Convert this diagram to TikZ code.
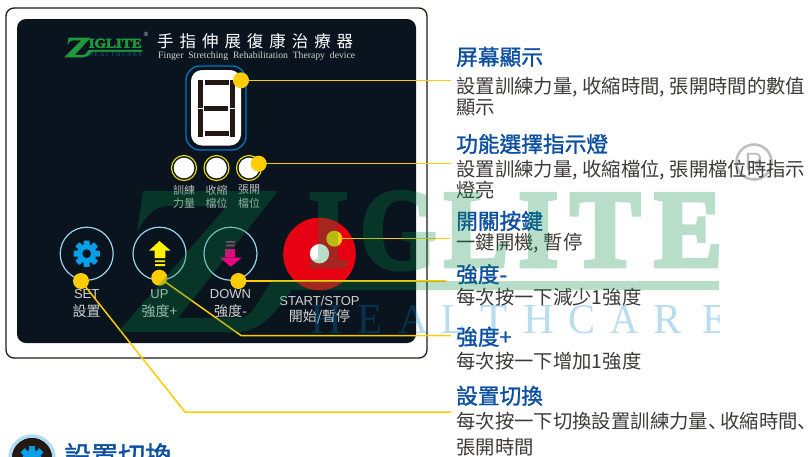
\documentclass[tikz,border=0pt]{standalone}
\usepackage{fontspec}
\setmainfont{Liberation Sans}
\newfontfamily\cjk{Noto Sans CJK TC}
\newfontfamily\cjkhead[FakeBold=1.2]{Noto Sans CJK TC}
\newfontfamily\cjksc{Noto Sans CJK SC}
\newfontfamily\cjktitle[LetterSpace=36]{Noto Sans CJK TC}
\newfontfamily\lsans{Liberation Sans}
\newfontfamily\lserif{Liberation Serif}
\newfontfamily\wmserif[FakeBold=4]{Liberation Serif Bold}
\definecolor{panelc}{HTML}{0A141E}
\definecolor{framec}{HTML}{231815}
\definecolor{headc}{HTML}{0B4EA2}
\definecolor{bodyc}{HTML}{3E3A39}
\definecolor{dotc}{HTML}{FFCC00}
\definecolor{ringc}{HTML}{9DD3EC}
\definecolor{gearc}{HTML}{00A0E9}
\definecolor{wmgreen}{RGB}{0,140,68}
\definecolor{wmblue}{RGB}{5,130,200}
\definecolor{labc}{HTML}{D2D2D2}
\definecolor{logoc}{HTML}{1E9A3C}
\definecolor{startc}{HTML}{E60012}
\definecolor{ledc}{HTML}{F5E000}
\definecolor{dispc}{HTML}{0075C2}
\tikzset{
 x=1pt,y=-1pt,
 headtxt/.style={anchor=base west,inner sep=0,text=headc,font=\cjkhead\fontsize{21.7}{21.7}\selectfont},
 bodytxt/.style={anchor=base west,inner sep=0,text=bodyc,font=\cjk\fontsize{19.35}{19.35}\selectfont},
 labtxt/.style={inner sep=0,text=labc,font=\lsans\fontsize{13}{13}\selectfont},
 labcjk/.style={inner sep=0,text=labc,font=\cjk\fontsize{14}{14}\selectfont},
 ledtxt/.style={inner sep=0,text=labc!90!black,font=\cjk\fontsize{11}{11}\selectfont},
 hotspot/.style={circle,fill=dotc,inner sep=0,minimum size=16pt},
 leader/.style={draw=dotc,line width=1.5pt},
 btnring/.style={circle,draw=ringc,line width=1.2pt,inner sep=0,minimum size=53pt},
 ledfill/.style={circle,fill=white,inner sep=0,minimum size=20.6pt},
 ledring/.style={circle,draw=ledc,line width=1.1pt,inner sep=0,minimum size=25pt},
 seg/.style={fill=framec,draw=none},
 wmg/.style={inner sep=0,anchor=north west,text=wmgreen},
 wmb/.style={inner sep=0,anchor=north west,text=wmblue},
}
\newcommand{\gearat}[3]{% x y scale
 \begin{scope}[shift={(#1,#2)},scale=#3]
  \fill[gearc] (0,0) circle[radius=9.6];
  \foreach \a in {0,45,...,315}{\fill[gearc,rotate=\a,rounded corners=.6pt] (-3,-13.2) rectangle (3,-7);}
  \fill[panelc] (0,0) circle[radius=4.4];
 \end{scope}}
\newcommand{\zshape}[1]{(143,191) -- (278,191) -- (178,318) -- (240,318)
   .. controls (252,318) and (258,300) .. (272,281) -- (#1,281) -- (#1,290) -- (292,290)
   .. controls (272,318) and (258,332) .. (236,332) -- (118,332) -- (227,206) -- (168,206)
   .. controls (152,206) and (144,220) .. (137,232) -- cycle}
\newcommand{\cm}{,\hspace{4.5pt}}
\newcommand{\dun}{{\cjksc 、}\hspace{-7pt}}
\begin{document}
\begin{tikzpicture}
\useasboundingbox (0,0) rectangle (809,456);
\clip (0,0) rectangle (809,456);
\fill[white] (0,0) rectangle (809,456);
% casing and panel
\draw[framec,line width=1.3pt,rounded corners=8pt] (6,8) rectangle (427,358);
\fill[panelc,rounded corners=9pt] (17,19) rectangle (416,343);
% logo
\begin{scope}[shift={(65,38)},xscale=.155,yscale=.135,shift={(-118,-191)}]
 \fill[logoc,draw=logoc,line width=.6pt] \zshape{615};
\end{scope}
\node[inner sep=0,anchor=north west,text=logoc] (logoname) at (88.5,38.5) {\resizebox{53pt}{9pt}{\wmserif IGLITE}};
\node[inner sep=0,anchor=north west,text=gearc!60!black] (logosub) at (89,52.5) {\resizebox{53pt}{4pt}{\lserif H E A L T H C A R E}};
\node[inner sep=0,text=labc,font=\lsans\fontsize{6}{6}\selectfont] (logoreg) at (146,34) {®};
\node[inner sep=0,anchor=base west,text=white,font=\cjktitle\fontsize{16.5}{16.5}\selectfont] (title) at (157,47.3) {手指伸展復康治療器};
\node[inner sep=0,anchor=base west,text=labc] (subtitle) at (158,58) {\resizebox{197pt}{!}{\lserif Finger\ \ Stretching\ \ Rehabilitation\ \ Therapy\ \ device}};
% display
\draw[draw=dispc,line width=1.3pt,rounded corners=14pt] (186,66) rectangle (246,150);
\fill[white,rounded corners=11pt] (191,70) rectangle (241,145.5);
\fill[seg] (198,80) rectangle (203.3,107.7);
\fill[seg] (198,109) rectangle (203.3,136.7);
\fill[seg] (230,80) rectangle (235,107.7);
\fill[seg] (230,109) rectangle (235,136.7);
\fill[seg] (204.7,80) rectangle (229.3,85);
\fill[seg] (203.5,105.7) rectangle (228,111);
\fill[seg] (204.7,130.7) rectangle (229.3,136);
% LEDs
\node[ledfill] (led1) at (184,168) {};
\node[ledfill] (led2) at (216.5,168) {};
\node[ledfill] (led3) at (249,168) {};
\node[ledring] (led1r) at (184,168) {};
\node[ledring] (led2r) at (216.5,168) {};
\node[ledring] (led3r) at (249,168) {};
\node[ledtxt] (l1a) at (184,190) {訓練};
\node[ledtxt] (l1b) at (184,203) {力量};
\node[ledtxt] (l2a) at (216.5,190) {收縮};
\node[ledtxt] (l2b) at (216.5,203) {檔位};
\node[ledtxt] (l3a) at (249,190) {張開};
\node[ledtxt] (l3b) at (249,203) {檔位};
% buttons
\node[btnring] (bset) at (86.7,253.7) {};
\node[btnring] (bup) at (159.5,253.7) {};
\node[btnring] (bdown) at (230.5,253.7) {};
\gearat{86.7}{253.7}{1}
\fill[yellow] (159.5,241) -- (170.7,250.7) -- (165.3,250.7) -- (165.3,258) -- (154.7,258) -- (154.7,250.7) -- (149,250.7) -- cycle;
\fill[yellow] (155,260.3) rectangle (165,262) (155,264) rectangle (165,266);
\fill[magenta!90!red] (225,249) rectangle (235,258) (220,257.7) -- (241.7,257.7) -- (230.7,266.7) -- cycle;
\fill[magenta!75!black] (226,241) rectangle (235,242.6) (226,244.6) rectangle (235,246.4);
\node[circle,fill=startc,inner sep=0,minimum size=72.6pt] (bstart) at (319.5,254) {};
\node[circle,fill=white,inner sep=0,minimum size=19.4pt] (bstarth) at (319.5,253.7) {};
\node[labtxt] (ts) at (86.7,294) {SET};
\node[labcjk] (tsc) at (86.7,311) {設置};
\node[labtxt] (tu) at (159.5,294) {UP};
\node[labcjk] (tuc) at (159.5,311) {強度+};
\node[labtxt] (td) at (230.5,294) {DOWN};
\node[labcjk] (tdc) at (230.5,311) {強度-};
\node[labtxt] (tst) at (319.5,301) {START/STOP};
\node[labcjk] (tstc) at (319.5,317) {開始/暫停};
% hotspots
\node[hotspot] (d1) at (241,80.3) {};
\node[hotspot] (d2) at (258.7,163.7) {};
\node[hotspot] (d3) at (334.3,238.7) {};
\node[hotspot] (d4) at (238.3,281) {};
\node[hotspot] (d5) at (159.3,277.7) {};
\node[hotspot] (d6) at (81,281) {};
\coordinate (e1) at (451,80.3);
\coordinate (e2) at (451,163.7);
\coordinate (e3) at (450,238.7);
\coordinate (e4) at (446,281);
\coordinate (k5) at (241,335.5);
\coordinate (e5) at (451,335.5);
\coordinate (k6) at (185,412);
\coordinate (e6) at (451,412);
\draw[leader] (d1.center) -- (e1);
\draw[leader] (d2.center) -- (e2);
\draw[leader] (d3.center) -- (e3);
\draw[leader] (d4.center) -- (e4);
\draw[leader] (d5.center) -- (k5) -- (e5);
\draw[leader] (d6.center) -- (k6) -- (e6);
% registered mark
\node[circle,draw=black!25,line width=2.6pt,inner sep=0,minimum size=35pt,text=black!25,font=\lsans\fontsize{25}{25}\selectfont] (regmark) at (754,162) {R};
% right texts
\node[headtxt] (h1) at (456,65) {屏幕顯示};
\node[bodytxt] (b1a) at (456.3,93) {設置訓練力量\cm 收縮時間\cm 張開時間的數值};
\node[bodytxt] (b1b) at (456.3,114) {顯示};
\node[headtxt] (h2) at (456,152.2) {功能選擇指示燈};
\node[bodytxt] (b2a) at (456.3,176.3) {設置訓練力量\cm 收縮檔位\cm 張開檔位時指示};
\node[bodytxt] (b2b) at (456.3,197) {燈亮};
\node[headtxt] (h3) at (456,229.2) {開關按鍵};
\node[bodytxt] (b3a) at (456.3,249) {一鍵開機\cm 暫停};
\node[headtxt] (h4) at (456,282.5) {強度-};
\node[bodytxt] (b4a) at (456.3,304) {每次按一下減少1強度};
\node[headtxt] (h5) at (456,345) {強度+};
\node[bodytxt] (b5a) at (456.3,368.7) {每次按一下增加1強度};
\node[headtxt] (h6) at (456,404) {設置切換};
\node[bodytxt] (b6a) at (456.3,428) {每次按一下切換設置訓練力量\dun 收縮時間\dun};
\node[bodytxt] (b6b) at (456.3,454) {張開時間};
% bottom cropped item
\fill[framec] (32,458) circle[radius=20.5];
\draw[ringc!80!white,line width=3.5pt] (32,458) circle[radius=22];
\fill[gearc] (32,459.5) circle[radius=9.6];
\foreach \a in {0,45,...,315}{\fill[gearc,shift={(32,459.5)},rotate=\a] (-3,-13.2) rectangle (3,-7);}
\node[anchor=base west,inner sep=0,text=headc,font=\cjkhead\fontsize{27}{27}\selectfont] (bottomh) at (64,466) {設置切換};
% watermark
\begin{scope}
 \clip (100,180) rectangle (719,345);
 \begin{scope}[transparency group,opacity=.28]
 \fill[wmgreen] \zshape{719};
 \node[wmg] (wi1) at (308,194) {\resizebox{40pt}{72pt}{\wmserif I}};
 \node[wmg] (wg) at (360,192) {\resizebox{76pt}{76pt}{\wmserif G}};
 \node[wmg] (wl) at (444,194) {\resizebox{64pt}{72pt}{\wmserif L}};
 \node[wmg] (wi2) at (518,194) {\resizebox{40pt}{72pt}{\wmserif I}};
 \node[wmg] (wt) at (570,194) {\resizebox{70pt}{72pt}{\wmserif T}};
 \node[wmg] (we) at (654,194) {\resizebox{68pt}{72pt}{\wmserif E}};
 \end{scope}
 \begin{scope}[transparency group,opacity=.28]
 \node[wmb] (hh1) at (310,305) {\resizebox{32pt}{28pt}{\lserif H}};
 \node[wmb] (he1) at (357,305) {\resizebox{25pt}{28pt}{\lserif E}};
 \node[wmb] (ha1) at (398,305) {\resizebox{30pt}{28pt}{\lserif A}};
 \node[wmb] (hl) at (441,305) {\resizebox{24pt}{28pt}{\lserif L}};
 \node[wmb] (ht) at (480,305) {\resizebox{27pt}{28pt}{\lserif T}};
 \node[wmb] (hh2) at (523,305) {\resizebox{31pt}{28pt}{\lserif H}};
 \node[wmb] (hc) at (568,305) {\resizebox{27pt}{28pt}{\lserif C}};
 \node[wmb] (ha2) at (610,305) {\resizebox{28pt}{28pt}{\lserif A}};
 \node[wmb] (hr) at (653,305) {\resizebox{28pt}{28pt}{\lserif R}};
 \node[wmb] (he2) at (702,305) {\resizebox{25pt}{28pt}{\lserif E}};
 \end{scope}
\end{scope}
\end{tikzpicture}
\end{document}
